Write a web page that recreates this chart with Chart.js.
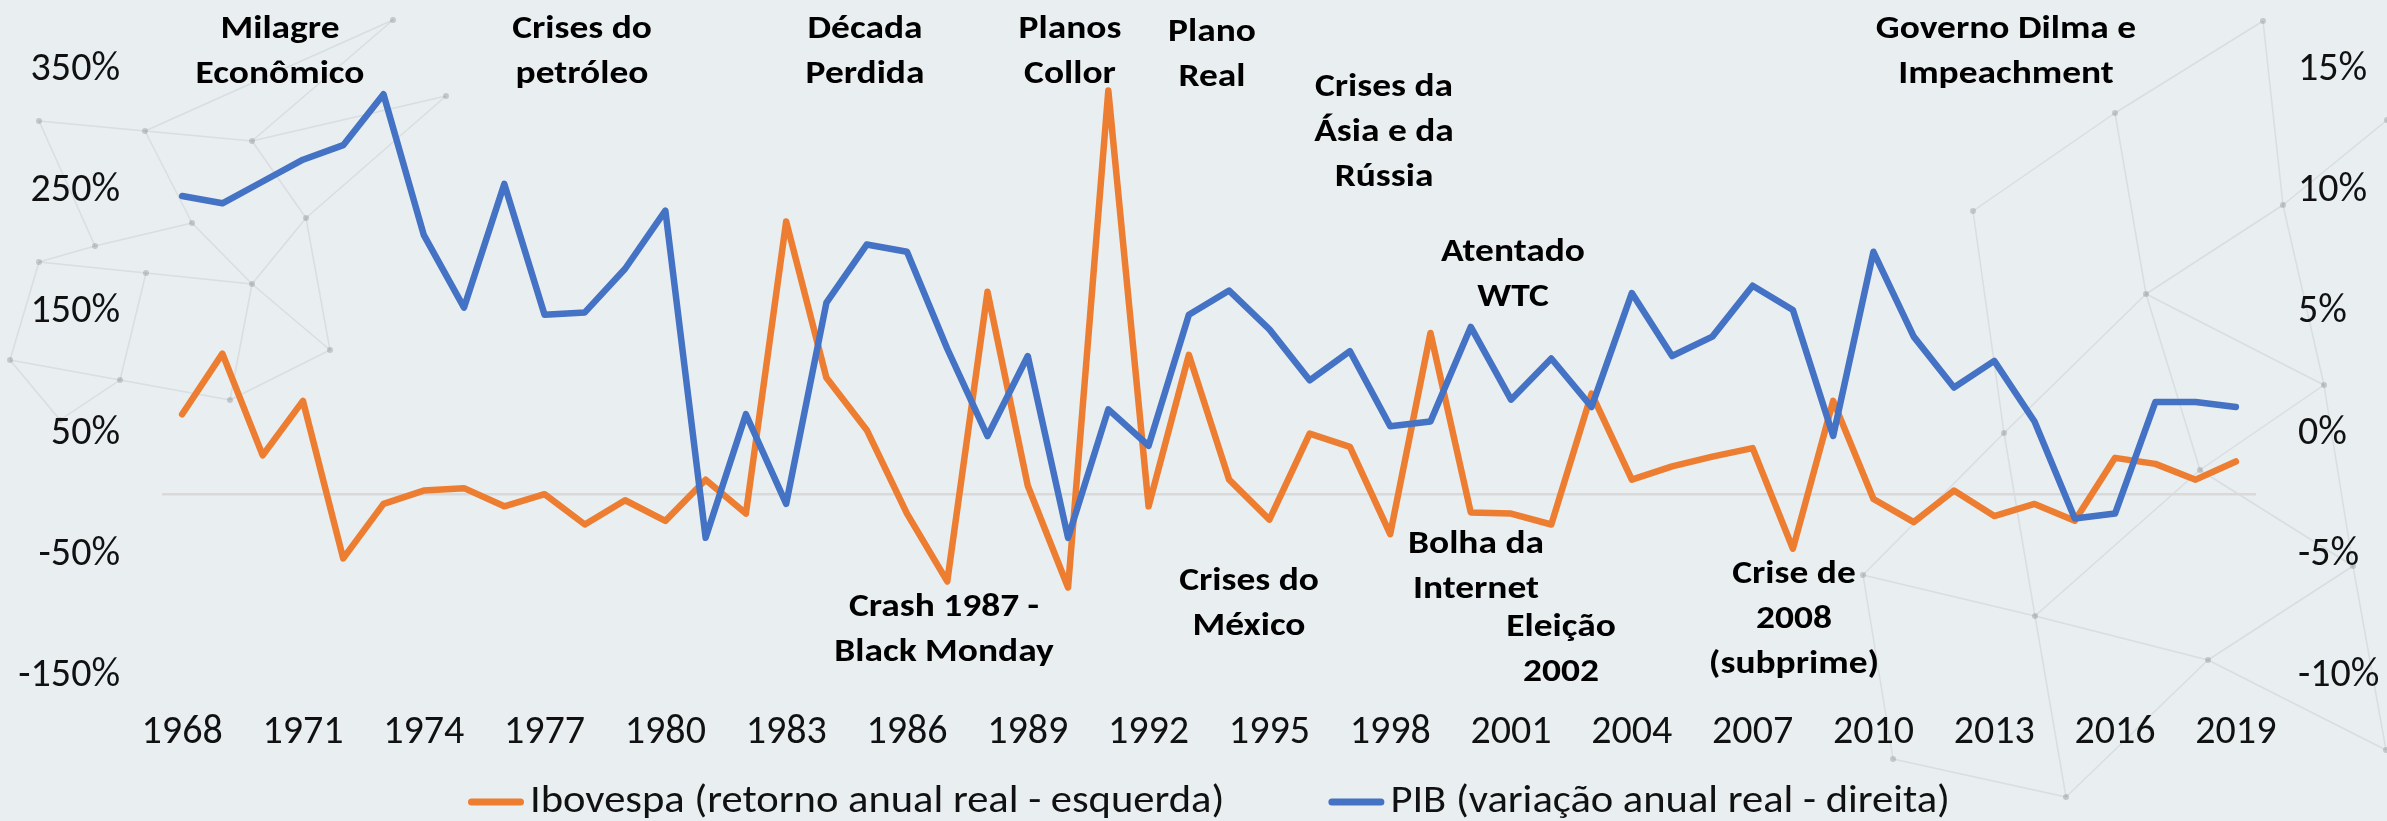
<!DOCTYPE html>
<html>
<head>
<meta charset="utf-8">
<script src="https://cdn.jsdelivr.net/npm/chart.js@4.4.1/dist/chart.umd.min.js"></script>
<style>
  html, body { margin: 0; padding: 0; background: #e9eef0; }
  canvas { display: block; }
</style>
</head>
<body>
<canvas id="chart" width="2387" height="821"></canvas>
<script>
// anos do eixo horizontal
const years = ['1968','1969','1970','1971','1972','1973','1974','1975','1976','1977',
  '1978','1979','1980','1981','1982','1983','1984','1985','1986','1987',
  '1988','1989','1990','1991','1992','1993','1994','1995','1996','1997',
  '1998','1999','2000','2001','2002','2003','2004','2005','2006','2007',
  '2008','2009','2010','2011','2012','2013','2014','2015','2016','2017',
  '2018','2019'];

// Ibovespa, retorno anual real (%) - eixo esquerdo
const ibovespa = [66, 116, 32, 77, -53, -8, 3, 5, -10, 0,
  -25, -5, -22, 12, -16, 225, 96, 53, -16, -72,
  167, 7, -77, 333, -10, 115, 12, -21, 50, 39,
  -33, 133, -15, -16, -25, 83, 12, 23, 31, 38,
  -45, 77, -4, -23, 3, -18, -8, -22, 30, 25,
  12, 27];

// PIB, variação anual real (%) - eixo direito
const pib = [9.8, 9.5, 10.4, 11.3, 11.9, 14.0, 8.2, 5.2, 10.3, 4.9,
  5.0, 6.8, 9.2, -4.3, 0.8, -2.9, 5.4, 7.8, 7.5, 3.5,
  -0.1, 3.2, -4.3, 1.0, -0.5, 4.9, 5.9, 4.3, 2.2, 3.4,
  0.3, 0.5, 4.4, 1.4, 3.1, 1.1, 5.8, 3.2, 4.0, 6.1,
  5.1, -0.1, 7.5, 4.0, 1.9, 3.0, 0.5, -3.5, -3.3, 1.3,
  1.3, 1.1];

const leftTicks = [-150, -50, 50, 150, 250, 350];
const rightTicks = [-10, -5, 0, 5, 10, 15];

const seriesNames = ['Ibovespa (retorno anual real - esquerda)', 'PIB (variação anual real - direita)'];

// eventos escritos sobre o gráfico
const notes = [
  { lines: ['Milagre', 'Econômico'], x: 280, y: 30 },
  { lines: ['Crises do', 'petróleo'], x: 582, y: 30 },
  { lines: ['Década', 'Perdida'], x: 865, y: 30 },
  { lines: ['Planos', 'Collor'], x: 1070, y: 30 },
  { lines: ['Plano', 'Real'], x: 1212, y: 33 },
  { lines: ['Crises da', 'Ásia e da', 'Rússia'], x: 1384, y: 88 },
  { lines: ['Atentado', 'WTC'], x: 1513, y: 253 },
  { lines: ['Governo Dilma e', 'Impeachment'], x: 2006, y: 30 },
  { lines: ['Crash 1987 -', 'Black Monday'], x: 944, y: 608 },
  { lines: ['Crises do', 'México'], x: 1249, y: 582 },
  { lines: ['Bolha da', 'Internet'], x: 1476, y: 545 },
  { lines: ['Eleição', '2002'], x: 1561, y: 628 },
  { lines: ['Crise de', '2008', '(subprime)'], x: 1794, y: 575 }
];

// rede decorativa do fundo (só enfeite)
const netNodes = [
  [39,121],[145,131],[252,141],[393,20],[39,262],[146,273],[252,284],[95,246],
  [306,218],[192,223],[446,96],[10,360],[120,380],[230,400],[330,350],[60,420],
  [2263,21],[2115,113],[2283,205],[2146,294],[2324,385],[2004,433],[2035,616],[2208,660],
  [1893,759],[2066,797],[2386,750],[2353,566],[1863,575],[1973,211],[2387,120],[2200,470]
];
const netEdges = [
  [0,1],[1,2],[2,10],[1,3],[0,7],[7,4],[4,5],[5,6],[6,8],[8,2],[9,1],[9,6],[7,9],
  [2,3],[10,8],[11,12],[12,13],[13,14],[14,6],[11,4],[12,5],[15,12],[15,11],[13,6],[14,8],
  [16,17],[16,18],[17,29],[17,19],[18,19],[18,20],[18,30],[19,21],[19,20],[19,31],
  [21,29],[21,22],[21,28],[22,23],[22,25],[22,28],[23,27],[23,25],[23,26],[20,27],
  [24,25],[24,28],[27,26],[31,22],[31,27],[31,20]
];

const FONT = "Carlito, Lato, 'Open Sans', sans-serif";
const TEXT = '#111111';

// texto um pouco alargado, como no original
function wideText(ctx, str, x, y, sx) {
  ctx.save();
  ctx.translate(x, y);
  ctx.scale(sx, 1);
  ctx.fillText(str, 0, 0);
  ctx.restore();
}

const overlay = {
  id: 'overlay',
  beforeDraw(chart) {
    const { ctx } = chart;
    ctx.save();
    ctx.strokeStyle = 'rgba(110,115,120,0.13)';
    ctx.lineWidth = 1.5;
    netEdges.forEach(([a, b]) => {
      ctx.beginPath();
      ctx.moveTo(netNodes[a][0], netNodes[a][1]);
      ctx.lineTo(netNodes[b][0], netNodes[b][1]);
      ctx.stroke();
    });
    ctx.fillStyle = 'rgba(110,115,120,0.3)';
    netNodes.forEach(([x, y]) => {
      ctx.beginPath();
      ctx.arc(x, y, 3, 0, Math.PI * 2);
      ctx.fill();
    });
    ctx.restore();
  },
  beforeDatasetsDraw(chart) {
    const { ctx, chartArea } = chart;
    const y0 = chart.scales.y.getPixelForValue(0);
    ctx.save();
    ctx.strokeStyle = '#d9d9d9';
    ctx.lineWidth = 2.5;
    ctx.beginPath();
    ctx.moveTo(chartArea.left, y0);
    ctx.lineTo(chartArea.right, y0);
    ctx.stroke();
    ctx.restore();
  },
  afterDraw(chart) {
    const { ctx } = chart;
    ctx.save();
    ctx.fillStyle = '#000';
    ctx.textAlign = 'center';
    ctx.textBaseline = 'middle';
    ctx.font = 'bold 32px ' + FONT;
    notes.forEach(n => {
      n.lines.forEach((line, i) => wideText(ctx, line, n.x, n.y + i * 45, 1.17));
    });

    // legenda
    const sx = 1.12;
    ctx.font = '38px ' + FONT;
    ctx.textAlign = 'left';
    const lineLen = 56, gap = 6, itemGap = 104;
    const ds = chart.data.datasets;
    const widths = ds.map(d => lineLen + gap + ctx.measureText(d.label).width * sx);
    const total = widths[0] + itemGap + widths[1];
    let x = (chart.chartArea.left + chart.chartArea.right) / 2 - total / 2;
    const ly = 802;
    ds.forEach((d, i) => {
      ctx.strokeStyle = d.borderColor;
      ctx.lineWidth = 7;
      ctx.lineCap = 'round';
      ctx.beginPath();
      ctx.moveTo(x + 3.5, ly);
      ctx.lineTo(x + lineLen - 3.5, ly);
      ctx.stroke();
      ctx.fillStyle = TEXT;
      wideText(ctx, d.label, x + lineLen + gap, ly, sx);
      x += widths[i] + itemGap;
    });
    ctx.restore();
  }
};

new Chart(document.getElementById('chart'), {
  type: 'line',
  data: {
    labels: years,
    datasets: [
      {
        label: seriesNames[0],
        data: ibovespa,
        yAxisID: 'y',
        borderColor: '#ed7d31',
        backgroundColor: '#ed7d31',
        borderWidth: 6.5,
        borderCapStyle: 'round',
        borderJoinStyle: 'round',
        pointRadius: 0,
        tension: 0,
        order: 1
      },
      {
        label: seriesNames[1],
        data: pib,
        yAxisID: 'y1',
        borderColor: '#4472c4',
        backgroundColor: '#4472c4',
        borderWidth: 6.5,
        borderCapStyle: 'round',
        borderJoinStyle: 'round',
        pointRadius: 0,
        tension: 0,
        order: 0
      }
    ]
  },
  options: {
    responsive: false,
    animation: false,
    devicePixelRatio: 1,
    layout: { padding: { top: 70, left: 0, right: 0, bottom: 0 } },
    plugins: {
      legend: { display: false },
      tooltip: { enabled: false }
    },
    scales: {
      x: {
        offset: true,
        grid: { display: false, drawTicks: false },
        border: { display: false },
        ticks: {
          autoSkip: false,
          maxRotation: 0,
          minRotation: 0,
          padding: 33,
          color: TEXT,
          font: { family: FONT, size: 40 },
          callback: function(val, i) { return i % 3 === 0 ? this.getLabelForValue(val) : ''; }
        },
        afterFit: s => { s.height = 145; }
      },
      y: {
        position: 'left',
        min: -150,
        max: 350,
        grid: { display: false, drawTicks: false },
        border: { display: false },
        afterBuildTicks: s => { s.ticks = leftTicks.map(v => ({ value: v })); },
        ticks: {
          padding: 42,
          color: TEXT,
          font: { family: FONT, size: 40 },
          callback: v => v + '%'
        },
        afterFit: s => { s.width = 162; }
      },
      y1: {
        position: 'right',
        min: -10,
        max: 15,
        grid: { display: false, drawTicks: false },
        border: { display: false },
        afterBuildTicks: s => { s.ticks = rightTicks.map(v => ({ value: v })); },
        ticks: {
          padding: 42,
          color: TEXT,
          font: { family: FONT, size: 40 },
          callback: v => v + '%'
        },
        afterFit: s => { s.width = 131; }
      }
    }
  },
  plugins: [overlay]
});
</script>
</body>
</html>
